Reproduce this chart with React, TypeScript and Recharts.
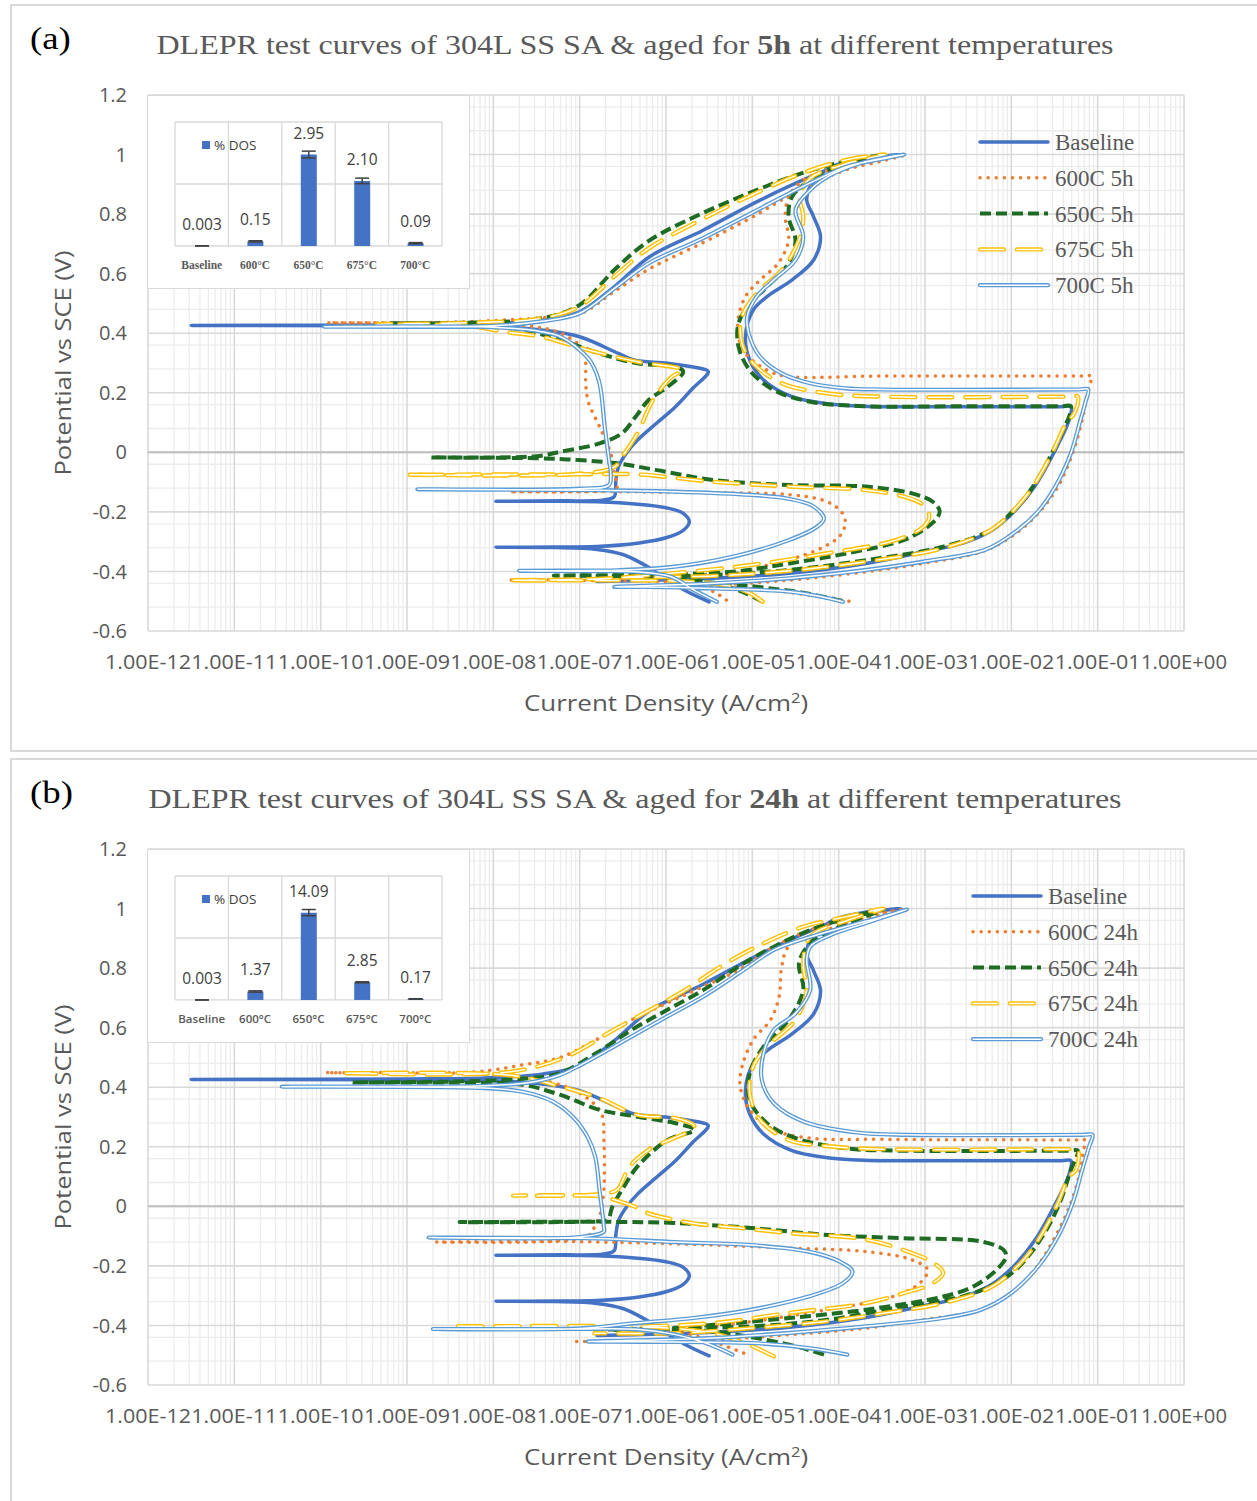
import React from "react";
import {
  LineChart,
  Line,
  XAxis,
  YAxis,
  CartesianGrid,
  Legend,
  BarChart,
  Bar,
  ErrorBar,
  LabelList,
} from "recharts";

// ── axes ────────────────────────────────────────────────────────────────────
const xTicks = [1e-12, 1e-11, 1e-10, 1e-9, 1e-8, 1e-7, 1e-6, 1e-5, 1e-4, 1e-3, 1e-2, 1e-1, 1];
const xTickLabels = [
  "1.00E-12", "1.00E-11", "1.00E-10", "1.00E-09", "1.00E-08", "1.00E-07", "1.00E-06",
  "1.00E-05", "1.00E-04", "1.00E-03", "1.00E-02", "1.00E-01", "1.00E+00",
];
const yTicks = [-0.6, -0.4, -0.2, 0, 0.2, 0.4, 0.6, 0.8, 1, 1.2];

// ── DLEPR curves: [log10 current density (A/cm²), potential vs SCE (V)] ─────
// the SA baseline is the same data set in both panels
const baseline = [
  [-5.5, -0.502], [-5.75, -0.468], [-6.03, -0.42], [-6.25, -0.378], [-6.5, -0.343], [-6.8, -0.326], [-7.3, -0.32], [-7.97, -0.319],
  [-7.3, -0.318], [-6.8, -0.316], [-6.33, -0.305], [-6.0, -0.287], [-5.8, -0.262], [-5.73, -0.233], [-5.8, -0.205], [-6.0, -0.186],
  [-6.33, -0.174], [-6.8, -0.166], [-7.3, -0.164], [-7.97, -0.164],
  [-7.2, -0.163], [-6.72, -0.16], [-6.6, -0.149], [-6.58, -0.093], [-6.55, -0.048], [-6.46, -0.003], [-6.33, 0.041], [-6.1, 0.1],
  [-5.89, 0.153], [-5.7, 0.212], [-5.51, 0.271],
  [-5.62, 0.283], [-5.98, 0.299], [-6.37, 0.31], [-6.55, 0.332], [-7.0, 0.388], [-7.44, 0.411], [-7.88, 0.421], [-9.0, 0.425], [-11.5, 0.426],
  [-9.0, 0.428], [-8.1, 0.431], [-7.44, 0.444], [-7.0, 0.472], [-6.6, 0.556], [-6.19, 0.657], [-5.57, 0.746], [-4.91, 0.847],
  [-4.33, 0.925], [-3.92, 0.97], [-3.5, 0.993], [-3.28, 1.0],
  [-3.71, 0.987], [-4.08, 0.959], [-4.33, 0.892], [-4.37, 0.847], [-4.29, 0.791], [-4.21, 0.724], [-4.29, 0.646], [-4.54, 0.579],
  [-4.83, 0.523], [-4.99, 0.478], [-5.08, 0.388], [-5.03, 0.31], [-4.87, 0.243], [-4.54, 0.187], [-4.17, 0.165], [-3.71, 0.155],
  [-2.5, 0.153], [-1.42, 0.153], [-1.31, 0.153],
  [-1.33, 0.109], [-1.51, -0.003], [-1.73, -0.115], [-1.95, -0.194], [-2.22, -0.261], [-2.57, -0.306], [-3.02, -0.334], [-3.68, -0.373],
  [-4.57, -0.406], [-5.45, -0.423], [-6.34, -0.431], [-6.8, -0.434],
];

const a600 = [
  [-5.3, -0.496], [-5.45, -0.468], [-5.7, -0.445], [-6.2, -0.433], [-7.0, -0.43], [-7.81, -0.429],
  [-7.0, -0.427], [-6.2, -0.42], [-5.23, -0.406], [-4.75, -0.373], [-4.4, -0.345], [-4.17, -0.317], [-4.0, -0.285], [-3.93, -0.25],
  [-3.93, -0.22], [-4.0, -0.19], [-4.17, -0.162], [-4.57, -0.142], [-5.3, -0.136], [-6.0, -0.134], [-6.57, -0.132], [-7.81, -0.132],
  [-6.7, -0.129], [-6.57, -0.12], [-6.6, -0.07], [-6.64, -0.003], [-6.77, 0.086], [-6.9, 0.17], [-6.93, 0.232], [-6.93, 0.3],
  [-6.95, 0.344], [-7.22, 0.4], [-7.6, 0.425], [-8.5, 0.433], [-9.92, 0.435],
  [-8.5, 0.437], [-7.44, 0.452], [-7.0, 0.465], [-6.6, 0.54], [-6.2, 0.615], [-5.6, 0.7], [-5.0, 0.79], [-4.4, 0.89], [-3.9, 0.95],
  [-3.5, 0.978], [-3.24, 0.998],
  [-3.8, 0.97], [-4.3, 0.93], [-4.46, 0.903], [-4.58, 0.858], [-4.62, 0.791], [-4.58, 0.713], [-4.7, 0.635], [-4.91, 0.579],
  [-5.08, 0.523], [-5.16, 0.455], [-5.16, 0.388], [-5.08, 0.332], [-4.83, 0.276], [-4.62, 0.256], [-3.5, 0.256], [-1.18, 0.256], [-1.07, 0.256],
  [-1.1, 0.22], [-1.18, 0.108], [-1.29, -0.003], [-1.46, -0.115], [-1.69, -0.205], [-2.0, -0.283], [-2.35, -0.334], [-3.02, -0.373],
  [-3.68, -0.401], [-4.57, -0.429], [-5.45, -0.446], [-6.0, -0.45], [-6.6, -0.452],
  [-6.0, -0.454], [-5.5, -0.455], [-5.01, -0.457], [-4.35, -0.479], [-3.88, -0.5],
];

const a650 = [
  [-4.88, -0.502], [-5.1, -0.47], [-5.45, -0.44], [-5.9, -0.421], [-6.5, -0.416], [-7.3, -0.414],
  [-6.3, -0.411], [-5.23, -0.401], [-4.57, -0.373], [-3.9, -0.339], [-3.24, -0.294], [-2.97, -0.25], [-2.86, -0.22], [-2.83, -0.197],
  [-2.91, -0.166], [-3.15, -0.138], [-3.68, -0.115], [-4.57, -0.11], [-5.45, -0.093], [-6.12, -0.059], [-6.56, -0.037], [-7.01, -0.026],
  [-7.5, -0.02], [-8.72, -0.017],
  [-7.5, -0.013], [-7.22, 0.002], [-6.77, 0.03], [-6.51, 0.064], [-6.35, 0.12], [-6.2, 0.176], [-5.98, 0.22], [-5.8, 0.271],
  [-5.89, 0.287], [-6.33, 0.299], [-6.77, 0.332], [-7.22, 0.377], [-7.66, 0.411], [-8.2, 0.43], [-9.2, 0.433],
  [-8.2, 0.436], [-7.44, 0.45], [-7.0, 0.495], [-6.6, 0.612], [-6.2, 0.71], [-5.6, 0.8], [-5.0, 0.875], [-4.4, 0.94], [-3.9, 0.978],
  [-3.46, 1.0],
  [-3.92, 0.97], [-4.33, 0.914], [-4.54, 0.858], [-4.58, 0.791], [-4.5, 0.713], [-4.58, 0.635], [-4.83, 0.556], [-5.03, 0.5],
  [-5.16, 0.433], [-5.16, 0.355], [-5.03, 0.276], [-4.75, 0.209], [-4.33, 0.17], [-3.71, 0.155], [-2.5, 0.155], [-1.42, 0.155], [-1.31, 0.155],
  [-1.33, 0.12], [-1.36, 0.1], [-1.53, -0.003], [-1.75, -0.115], [-1.97, -0.194], [-2.24, -0.261], [-2.79, -0.317], [-3.68, -0.362],
  [-4.57, -0.395], [-5.45, -0.412], [-6.0, -0.42], [-5.0, -0.45], [-4.4, -0.472], [-3.95, -0.5],
];

const a675 = [
  [-4.88, -0.502], [-5.05, -0.47], [-5.4, -0.442], [-5.9, -0.432], [-6.8, -0.43], [-7.8, -0.43],
  [-6.8, -0.425], [-6.0, -0.408], [-5.01, -0.378], [-4.13, -0.339], [-3.33, -0.294], [-3.02, -0.25], [-2.95, -0.216], [-3.02, -0.177],
  [-3.24, -0.149], [-3.68, -0.127], [-4.57, -0.115], [-5.45, -0.099], [-6.34, -0.074], [-7.0, -0.074], [-8.99, -0.075],
  [-7.0, -0.072], [-6.6, -0.05], [-6.51, -0.015], [-6.33, 0.064], [-6.15, 0.176], [-5.93, 0.254], [-5.8, 0.276], [-6.33, 0.304],
  [-6.91, 0.344], [-7.44, 0.388], [-7.88, 0.405], [-8.3, 0.425], [-9.35, 0.43],
  [-8.3, 0.435], [-7.44, 0.45], [-7.0, 0.49], [-6.6, 0.59], [-6.2, 0.685], [-5.6, 0.78], [-5.0, 0.865], [-4.4, 0.94], [-3.9, 0.983],
  [-3.46, 1.0],
  [-3.9, 0.97], [-4.33, 0.92], [-4.45, 0.86], [-4.41, 0.791], [-4.46, 0.713], [-4.66, 0.612], [-4.95, 0.534], [-5.12, 0.455],
  [-5.12, 0.366], [-4.99, 0.299], [-4.66, 0.232], [-4.13, 0.198], [-3.5, 0.187], [-1.34, 0.187], [-1.23, 0.187],
  [-1.27, 0.131], [-1.36, 0.1], [-1.53, -0.003], [-1.75, -0.115], [-1.97, -0.194], [-2.24, -0.261], [-2.79, -0.322], [-3.68, -0.367],
  [-4.57, -0.398], [-5.45, -0.415], [-6.5, -0.42],
];

const a700 = [
  [-5.41, -0.502], [-5.68, -0.462], [-5.94, -0.418], [-6.3, -0.402], [-6.8, -0.399], [-7.7, -0.398],
  [-6.8, -0.397], [-6.56, -0.396], [-5.9, -0.384], [-5.23, -0.351], [-4.57, -0.294], [-4.25, -0.25], [-4.17, -0.222], [-4.3, -0.18],
  [-4.6, -0.155], [-5.01, -0.143], [-5.9, -0.132], [-6.78, -0.127], [-8.88, -0.124],
  [-7.0, -0.122], [-6.66, -0.11], [-6.64, -0.07], [-6.66, -0.026], [-6.71, 0.086], [-6.77, 0.232], [-6.86, 0.299], [-7.0, 0.344],
  [-7.22, 0.388], [-7.44, 0.405], [-8.0, 0.42], [-9.96, 0.422],
  [-8.0, 0.425], [-7.44, 0.44], [-7.0, 0.467], [-6.6, 0.55], [-6.2, 0.635], [-5.6, 0.715], [-5.0, 0.805], [-4.4, 0.895], [-3.9, 0.96],
  [-3.5, 0.985], [-3.24, 1.0],
  [-3.7, 0.975], [-4.1, 0.93], [-4.33, 0.881], [-4.5, 0.814], [-4.41, 0.724], [-4.5, 0.646], [-4.75, 0.579], [-4.95, 0.523],
  [-5.06, 0.455], [-5.03, 0.388], [-4.91, 0.321], [-4.66, 0.265], [-4.33, 0.232], [-3.92, 0.215], [-3.5, 0.211], [-1.22, 0.211], [-1.11, 0.211],
  [-1.14, 0.17], [-1.2, 0.108], [-1.31, -0.003], [-1.49, -0.115], [-1.71, -0.205], [-2.03, -0.283], [-2.31, -0.328], [-3.02, -0.367],
  [-3.68, -0.395], [-4.57, -0.423], [-5.45, -0.44], [-6.34, -0.449], [-6.6, -0.452],
  [-6.2, -0.452], [-5.45, -0.457], [-4.57, -0.468], [-4.2, -0.485], [-3.95, -0.502],
];

const b600 = [
  [-5.1, -0.493], [-5.35, -0.465], [-5.6, -0.44], [-5.9, -0.418], [-6.5, -0.412], [-7.39, -0.41],
  [-6.5, -0.414], [-5.9, -0.415], [-5.01, -0.387], [-4.13, -0.347], [-3.37, -0.303], [-3.06, -0.258], [-2.97, -0.213], [-3.15, -0.18],
  [-3.68, -0.152], [-4.57, -0.14], [-5.9, -0.126], [-7.23, -0.118], [-8.66, -0.12],
  [-7.3, -0.117], [-6.9, -0.1], [-6.86, -0.085], [-6.77, -0.034], [-6.72, 0.055], [-6.72, 0.223], [-6.75, 0.313], [-7.0, 0.38],
  [-7.44, 0.424], [-8.2, 0.445], [-9.94, 0.449],
  [-8.2, 0.452], [-7.66, 0.475], [-7.22, 0.5], [-6.81, 0.559], [-6.4, 0.626], [-5.99, 0.682], [-5.57, 0.738], [-5.16, 0.794],
  [-4.75, 0.872], [-4.33, 0.928], [-3.92, 0.961], [-3.5, 0.984], [-3.28, 0.997],
  [-3.8, 0.96], [-4.3, 0.91], [-4.58, 0.872], [-4.66, 0.805], [-4.69, 0.704], [-4.79, 0.626], [-4.99, 0.559], [-5.12, 0.469],
  [-5.14, 0.402], [-5.03, 0.324], [-4.75, 0.257], [-4.33, 0.229], [-3.5, 0.225], [-1.26, 0.223], [-1.15, 0.223],
  [-1.17, 0.18], [-1.2, 0.122], [-1.31, 0.011], [-1.49, -0.101], [-1.73, -0.213], [-2.0, -0.291], [-2.35, -0.347], [-3.02, -0.381],
  [-3.68, -0.409], [-4.57, -0.431], [-5.45, -0.448], [-6.3, -0.453], [-7.08, -0.454],
];

const b650 = [
  [-4.17, -0.498], [-4.5, -0.47], [-5.0, -0.44], [-5.45, -0.42], [-6.0, -0.412], [-6.7, -0.414],
  [-6.0, -0.41], [-5.45, -0.398], [-4.57, -0.375], [-3.68, -0.347], [-2.79, -0.303], [-2.44, -0.269], [-2.17, -0.213], [-2.06, -0.168],
  [-2.09, -0.146], [-2.35, -0.118], [-3.24, -0.107], [-4.13, -0.096], [-5.01, -0.073], [-5.9, -0.056], [-6.68, -0.052], [-8.39, -0.053],
  [-6.9, -0.051], [-6.68, -0.045], [-6.62, 0.0], [-6.51, 0.055], [-6.33, 0.134], [-5.98, 0.223], [-5.67, 0.257],
  [-5.89, 0.279], [-6.33, 0.301], [-6.77, 0.324], [-7.22, 0.374], [-7.66, 0.408], [-8.3, 0.415], [-9.63, 0.416],
  [-8.3, 0.42], [-7.6, 0.43], [-7.23, 0.447], [-6.81, 0.514], [-6.4, 0.592], [-5.99, 0.659], [-5.57, 0.726], [-5.16, 0.805],
  [-4.75, 0.872], [-4.33, 0.928], [-3.92, 0.966], [-3.48, 0.997],
  [-3.9, 0.95], [-4.33, 0.883], [-4.46, 0.816], [-4.41, 0.727], [-4.58, 0.626], [-4.87, 0.536], [-5.03, 0.447], [-5.03, 0.357],
  [-4.83, 0.279], [-4.5, 0.229], [-3.92, 0.195], [-3.3, 0.187], [-1.34, 0.187], [-1.23, 0.187],
  [-1.27, 0.15], [-1.31, 0.122], [-1.44, 0.011], [-1.64, -0.101], [-1.91, -0.202], [-2.17, -0.258], [-2.57, -0.303], [-3.24, -0.336],
  [-4.13, -0.381], [-5.01, -0.403], [-5.9, -0.41], [-6.6, -0.415],
];

const b675 = [
  [-4.75, -0.504], [-5.0, -0.47], [-5.4, -0.43], [-5.9, -0.41], [-6.8, -0.405], [-8.48, -0.403],
  [-6.8, -0.402], [-6.34, -0.403], [-5.45, -0.392], [-4.57, -0.358], [-3.68, -0.325], [-3.24, -0.291], [-2.92, -0.26], [-2.79, -0.224],
  [-2.9, -0.19], [-3.15, -0.157], [-3.68, -0.112], [-4.57, -0.09], [-5.14, -0.073], [-5.68, -0.057], [-6.21, -0.023], [-6.37, 0.0],
  [-6.6, 0.022], [-6.77, 0.034], [-7.77, 0.036],
  [-6.9, 0.038], [-6.6, 0.05], [-6.55, 0.06], [-6.42, 0.134], [-6.2, 0.19], [-5.67, 0.268], [-5.89, 0.296], [-6.33, 0.307],
  [-6.77, 0.363], [-7.22, 0.402], [-7.8, 0.44], [-9.74, 0.447],
  [-7.8, 0.452], [-7.15, 0.503], [-6.61, 0.592], [-6.19, 0.659], [-5.78, 0.726], [-5.37, 0.805], [-4.95, 0.872], [-4.41, 0.939],
  [-3.92, 0.972], [-3.48, 1.0],
  [-3.9, 0.96], [-4.33, 0.905], [-4.41, 0.805], [-4.37, 0.727], [-4.5, 0.626], [-4.83, 0.536], [-4.99, 0.469], [-5.03, 0.38],
  [-4.91, 0.29], [-4.58, 0.223], [-4.08, 0.201], [-3.5, 0.192], [-1.34, 0.192], [-1.23, 0.192],
  [-1.25, 0.122], [-1.33, 0.1], [-1.46, 0.011], [-1.64, -0.09], [-1.86, -0.18], [-2.22, -0.269], [-2.79, -0.325], [-3.46, -0.358],
  [-4.13, -0.386], [-5.01, -0.409], [-5.9, -0.426], [-6.83, -0.426],
];

const b700 = [
  [-5.23, -0.498], [-5.54, -0.459], [-5.9, -0.43], [-6.34, -0.413], [-7.0, -0.412], [-8.7, -0.412],
  [-7.0, -0.41], [-6.34, -0.392], [-5.68, -0.375], [-5.01, -0.347], [-4.35, -0.303], [-3.95, -0.258], [-3.84, -0.219], [-3.99, -0.185],
  [-4.35, -0.152], [-5.01, -0.13], [-5.9, -0.12], [-6.8, -0.108], [-8.75, -0.105],
  [-7.0, -0.103], [-6.72, -0.085], [-6.72, -0.068], [-6.77, 0.055], [-6.82, 0.167], [-6.91, 0.234], [-7.08, 0.301], [-7.31, 0.352],
  [-7.66, 0.385], [-8.1, 0.397], [-10.45, 0.402],
  [-8.1, 0.405], [-7.6, 0.415], [-7.23, 0.441], [-6.81, 0.503], [-6.4, 0.57], [-5.99, 0.637], [-5.57, 0.704], [-5.16, 0.782],
  [-4.75, 0.861], [-4.33, 0.905], [-3.92, 0.939], [-3.5, 0.972], [-3.21, 0.997],
  [-3.7, 0.95], [-4.1, 0.91], [-4.33, 0.872], [-4.37, 0.827], [-4.33, 0.727], [-4.5, 0.648], [-4.75, 0.592], [-4.87, 0.514],
  [-4.89, 0.424], [-4.75, 0.346], [-4.41, 0.285], [-3.79, 0.248], [-3.2, 0.24], [-1.17, 0.24], [-1.06, 0.24],
  [-1.1, 0.2], [-1.18, 0.122], [-1.29, 0.011], [-1.46, -0.101], [-1.69, -0.202], [-2.0, -0.291], [-2.35, -0.347], [-2.79, -0.375],
  [-3.68, -0.403], [-4.57, -0.425], [-5.45, -0.442], [-6.34, -0.45], [-6.91, -0.454],
  [-6.3, -0.455], [-5.01, -0.459], [-4.35, -0.476], [-3.9, -0.498],
];

const names5h = ["Baseline", "600C 5h", "650C 5h", "675C 5h", "700C 5h"];
const names24h = ["Baseline", "600C 24h", "650C 24h", "675C 24h", "700C 24h"];

// ── inset: degree of sensitisation ─────────────────────────────────────────
const dosCategories = ["Baseline", "600°C", "650°C", "675°C", "700°C"];
const dos5h = [0.003, 0.15, 2.95, 2.1, 0.09];
const dos5hLabels = ["0.003", "0.15", "2.95", "2.10", "0.09"];
const dos5hErr = [0.003, 0.02, 0.11, 0.09, 0.02];
const dos24h = [0.003, 1.37, 14.09, 2.85, 0.17];
const dos24hLabels = ["0.003", "1.37", "14.09", "2.85", "0.17"];
const dos24hErr = [0.01, 0.1, 0.5, 0.08, 0.03];

// ── styling ────────────────────────────────────────────────────────────────
const SANS = "'Open Sans', 'Liberation Sans', sans-serif";
const SERIF = "'Liberation Serif', 'Times New Roman', serif";
const GREY = "#595959";

type Sty = { color: string; width: number; dash?: string; round?: boolean; hollow?: boolean };
const seriesStyles: Sty[] = [
  { color: "#4472C4", width: 3.5, round: true },
  { color: "#ED7D31", width: 3.5, dash: "0.1 8", round: true },
  { color: "#1E6B24", width: 4, dash: "11 5" },
  { color: "#FFC000", width: 4.4, dash: "24 13", round: true, hollow: true },
  { color: "#5B9BD5", width: 4.2, round: true, hollow: true },
];

// minor gridlines (log decades and 0.04 V steps)
const minorX: number[] = [];
for (let d = -12; d < 0; d++) for (let k = 2; k <= 9; k++) minorX.push(k * 10 ** d);
const minorY: number[] = [];
for (let n = -15; n <= 30; n++) if (n % 5 !== 0) minorY.push(Math.round(n * 4) / 100);

const toPoints = (pts: number[][]) => pts.map(([l, e]) => ({ i: 10 ** l, e }));

// centripetal Catmull-Rom curve (smooth, passes through every point, like Excel's smoothed lines)
class SmoothCurve {
  _context: any;
  _alpha = 0.5;
  _line: number = NaN;
  _point = 0;
  _x0 = NaN; _x1 = NaN; _x2 = NaN; _y0 = NaN; _y1 = NaN; _y2 = NaN;
  _l01_a = 0; _l12_a = 0; _l23_a = 0; _l01_2a = 0; _l12_2a = 0; _l23_2a = 0;
  constructor(context: any) {
    this._context = context;
  }
  areaStart() { this._line = 0; }
  areaEnd() { this._line = NaN; }
  lineStart() {
    this._x0 = this._x1 = this._x2 = this._y0 = this._y1 = this._y2 = NaN;
    this._l01_a = this._l12_a = this._l23_a = this._l01_2a = this._l12_2a = this._l23_2a = this._point = 0;
  }
  lineEnd() {
    if (this._point === 2) this._context.lineTo(this._x2, this._y2);
    else if (this._point === 3) this.point(this._x2, this._y2);
    if (this._line || (this._line !== 0 && this._point === 1)) this._context.closePath();
    this._line = 1 - this._line;
  }
  bez(x: number, y: number) {
    let x1 = this._x1, y1 = this._y1, x2 = this._x2, y2 = this._y2;
    if (this._l01_a > 1e-12) {
      const a = 2 * this._l01_2a + 3 * this._l01_a * this._l12_a + this._l12_2a;
      const n = 3 * this._l01_a * (this._l01_a + this._l12_a);
      x1 = (x1 * a - this._x0 * this._l12_2a + this._x2 * this._l01_2a) / n;
      y1 = (y1 * a - this._y0 * this._l12_2a + this._y2 * this._l01_2a) / n;
    }
    if (this._l23_a > 1e-12) {
      const b = 2 * this._l23_2a + 3 * this._l23_a * this._l12_a + this._l12_2a;
      const m = 3 * this._l23_a * (this._l23_a + this._l12_a);
      x2 = (x2 * b + this._x1 * this._l23_2a - x * this._l12_2a) / m;
      y2 = (y2 * b + this._y1 * this._l23_2a - y * this._l12_2a) / m;
    }
    this._context.bezierCurveTo(x1, y1, x2, y2, this._x2, this._y2);
  }
  point(x: number, y: number) {
    x = +x;
    y = +y;
    if (this._point) {
      const x23 = this._x2 - x, y23 = this._y2 - y;
      this._l23_2a = Math.pow(x23 * x23 + y23 * y23, this._alpha);
      this._l23_a = Math.sqrt(this._l23_2a);
    }
    if (this._point === 0) {
      this._point = 1;
      if (this._line) this._context.lineTo(x, y);
      else this._context.moveTo(x, y);
    } else if (this._point === 1) {
      this._point = 2;
    } else {
      this._point = 3;
      this.bez(x, y);
    }
    this._l01_a = this._l12_a; this._l12_a = this._l23_a;
    this._l01_2a = this._l12_2a; this._l12_2a = this._l23_2a;
    this._x0 = this._x1; this._x1 = this._x2; this._x2 = x;
    this._y0 = this._y1; this._y1 = this._y2; this._y2 = y;
  }
}
const smooth = (context: any) => new SmoothCurve(context);

const XTick = (props: any) => {
  const { x, y, index } = props;
  return (
    <text
      x={x}
      y={y}
      dy={38}
      textAnchor="middle"
      fontFamily={SANS}
      fontSize={20}
      fill={GREY}
      textLength={86}
      lengthAdjust="spacingAndGlyphs"
    >
      {xTickLabels[index]}
    </text>
  );
};

function LegendBox({ names }: { names: string[] }) {
  return (
    <svg width={200} height={170}>
      {names.map((n, k) => {
        const s = seriesStyles[k];
        const y = 12 + k * 35.8;
        return (
          <g key={n}>
            <line
              x1={4}
              x2={72}
              y1={y}
              y2={y}
              stroke={s.color}
              strokeWidth={s.width}
              strokeDasharray={s.dash}
              strokeLinecap={s.round ? "round" : "butt"}
            />
            {s.hollow && (
              <line x1={4} x2={72} y1={y} y2={y} stroke="#fff" strokeWidth={1.5} strokeDasharray={s.dash} strokeLinecap="round" />
            )}
            <text x={79} y={y} dy="0.35em" fontFamily={SERIF} fontSize={23} fill={GREY}>
              {n}
            </text>
          </g>
        );
      })}
    </svg>
  );
}

function DosInset({ values, labels, errs, max, catFont, catWeight }: any) {
  const data = dosCategories.map((c, k) => ({ cat: c, dos: values[k], err: errs[k], label: labels[k] }));
  return (
    <div style={{ position: "absolute", left: 147, top: 95, width: 323, height: 194, background: "#fff", border: "1.5px solid #d9d9d9", boxSizing: "border-box" }}>
      <BarChart width={320} height={191} data={data} margin={{ top: 26, right: 26, bottom: 0, left: 27 }}>
        <CartesianGrid
          stroke="#d9d9d9"
          strokeWidth={1.3}
          horizontalValues={[0, max / 2, max]}
          verticalCoordinatesGenerator={({ offset }: any) =>
            [0, 1, 2, 3, 4, 5].map((k) => offset.left + (k * offset.width) / 5)
          }
        />
        <XAxis
          dataKey="cat"
          height={41}
          tickLine={false}
          axisLine={false}
          tickMargin={9}
          interval={0}
          tick={{ fontFamily: catFont, fontSize: 11.5, fontWeight: catWeight, fill: GREY }}
        />
        <YAxis hide domain={[0, max]} />
        <Bar dataKey="dos" fill="#4472C4" barSize={16} isAnimationActive={false}>
          <ErrorBar dataKey="err" width={7} stroke="#404040" strokeWidth={1.5} direction="y" />
          <LabelList dataKey="label" position="top" offset={16} fontFamily={SANS} fontSize={15.5} fill="#404040" />
        </Bar>
      </BarChart>
      <div style={{ position: "absolute", left: 54, top: 40, display: "flex", alignItems: "center", fontFamily: SANS, fontSize: 13.5, color: "#404040" }}>
        <span style={{ display: "inline-block", width: 8, height: 8, background: "#4472C4", marginRight: 4 }} />
        % DOS
      </div>
    </div>
  );
}

function Panel({ top, letter, hours, curves, names, legendLeft, inset }: any) {
  const lines = curves.flatMap((pts: number[][], k: number) => {
    const s = seriesStyles[k];
    const data = toPoints(pts);
    const out = [
      <Line
        key={`c${k}`}
        data={data}
        dataKey="e"
        name={names[k]}
        type={smooth as any}
        stroke={s.color}
        strokeWidth={s.width}
        strokeDasharray={s.dash}
        strokeLinecap={s.round ? "round" : "butt"}
        strokeLinejoin="round"
        dot={false}
        activeDot={false}
        isAnimationActive={false}
      />,
    ];
    if (s.hollow) {
      out.push(
        <Line
          key={`w${k}`}
          data={data}
          dataKey="e"
          type={smooth as any}
          stroke="#ffffff"
          strokeWidth={1.5}
          strokeDasharray={s.dash}
          strokeLinecap="round"
          strokeLinejoin="round"
          dot={false}
          activeDot={false}
          legendType="none"
          isAnimationActive={false}
        />
      );
    }
    return out;
  });

  return (
    <div style={{ position: "absolute", left: 0, top, width: 1257, height: 754 }}>
      <div style={{ position: "absolute", left: 10, top: 4, width: 1260, height: 748, border: "2px solid #d9d9d9", boxSizing: "border-box" }} />
      <div
        style={{
          position: "absolute",
          left: 30,
          top: 20,
          fontFamily: SERIF,
          fontSize: 32,
          color: "#000",
          transform: "scaleX(1.15)",
          transformOrigin: "0 0",
        }}
      >
        ({letter})
      </div>
      <div
        style={{
          position: "absolute",
          left: 0,
          top: 27,
          width: 1270,
          textAlign: "center",
          fontFamily: SERIF,
          fontSize: 28,
          lineHeight: "36px",
          color: GREY,
          transform: "scaleX(1.145)",
          transformOrigin: "635px 0",
          whiteSpace: "nowrap",
        }}
      >
        DLEPR test curves of 304L SS SA &amp; aged for <b>{hours}</b> at different temperatures
      </div>
      <div style={{ position: "absolute", left: 0, top: 0 }}>
        <LineChart width={1257} height={754} margin={{ top: 95, right: 73, bottom: 78, left: 88 }}>
          <CartesianGrid stroke="#ececec" strokeWidth={1.3} verticalValues={minorX} horizontalValues={minorY} />
          <CartesianGrid stroke="#d9d9d9" strokeWidth={1.6} />
          <CartesianGrid stroke="#bfbfbf" strokeWidth={2} vertical={false} horizontalValues={[0]} />
          <XAxis
            dataKey="i"
            type="number"
            scale="log"
            domain={[1e-12, 1]}
            ticks={xTicks}
            interval={0}
            height={45}
            tickSize={0}
            tickMargin={0}
            tickLine={false}
            axisLine={false}
            tick={<XTick />}
            label={{
              content: ({ viewBox }: any) => (
                <text
                  transform={`translate(${viewBox.x + viewBox.width / 2}, ${viewBox.y + 72}) scale(1.18, 1)`}
                  dy="0.35em"
                  textAnchor="middle"
                  fontFamily={SANS}
                  fontSize={22}
                  fill={GREY}
                >
                  Current Density (A/cm
                  <tspan dy={-8} fontSize={14}>2</tspan>
                  <tspan dy={8}>)</tspan>
                </text>
              ),
            }}
          />
          <YAxis
            type="number"
            domain={[-0.6, 1.2]}
            ticks={yTicks}
            width={60}
            tickSize={0}
            tickMargin={21}
            tickLine={false}
            axisLine={false}
            tick={{ fontFamily: SANS, fontSize: 20, fill: GREY }}
            label={{
              content: ({ viewBox }: any) => (
                <text
                  transform={`translate(${viewBox.x - 25}, ${viewBox.y + viewBox.height / 2}) rotate(-90) scale(1.16, 1)`}
                  dy="0.35em"
                  textAnchor="middle"
                  fontFamily={SANS}
                  fontSize={22}
                  fill={GREY}
                >
                  Potential vs SCE (V)
                </text>
              ),
            }}
          />
          {lines}
          <Legend
            layout="horizontal"
            verticalAlign="middle"
            align="center"
            content={() => <LegendBox names={names} />}
            wrapperStyle={{ position: "absolute", left: legendLeft, top: 130, width: 200 }}
          />
        </LineChart>
      </div>
      <DosInset {...inset} />
    </div>
  );
}

export default function App() {
  return (
    <div style={{ position: "absolute", left: 0, top: 0, width: 1257, height: 1501, background: "#fff", overflow: "hidden" }}>
      <Panel
        top={0}
        letter="a"
        hours="5h"
        curves={[baseline, a600, a650, a675, a700]}
        names={names5h}
        legendLeft={976}
        inset={{ values: dos5h, labels: dos5hLabels, errs: dos5hErr, max: 4, catFont: SERIF, catWeight: 700 }}
      />
      <Panel
        top={754}
        letter="b"
        hours="24h"
        curves={[baseline, b600, b650, b675, b700]}
        names={names24h}
        legendLeft={969}
        inset={{ values: dos24h, labels: dos24hLabels, errs: dos24hErr, max: 20, catFont: SANS, catWeight: 600 }}
      />
    </div>
  );
}
